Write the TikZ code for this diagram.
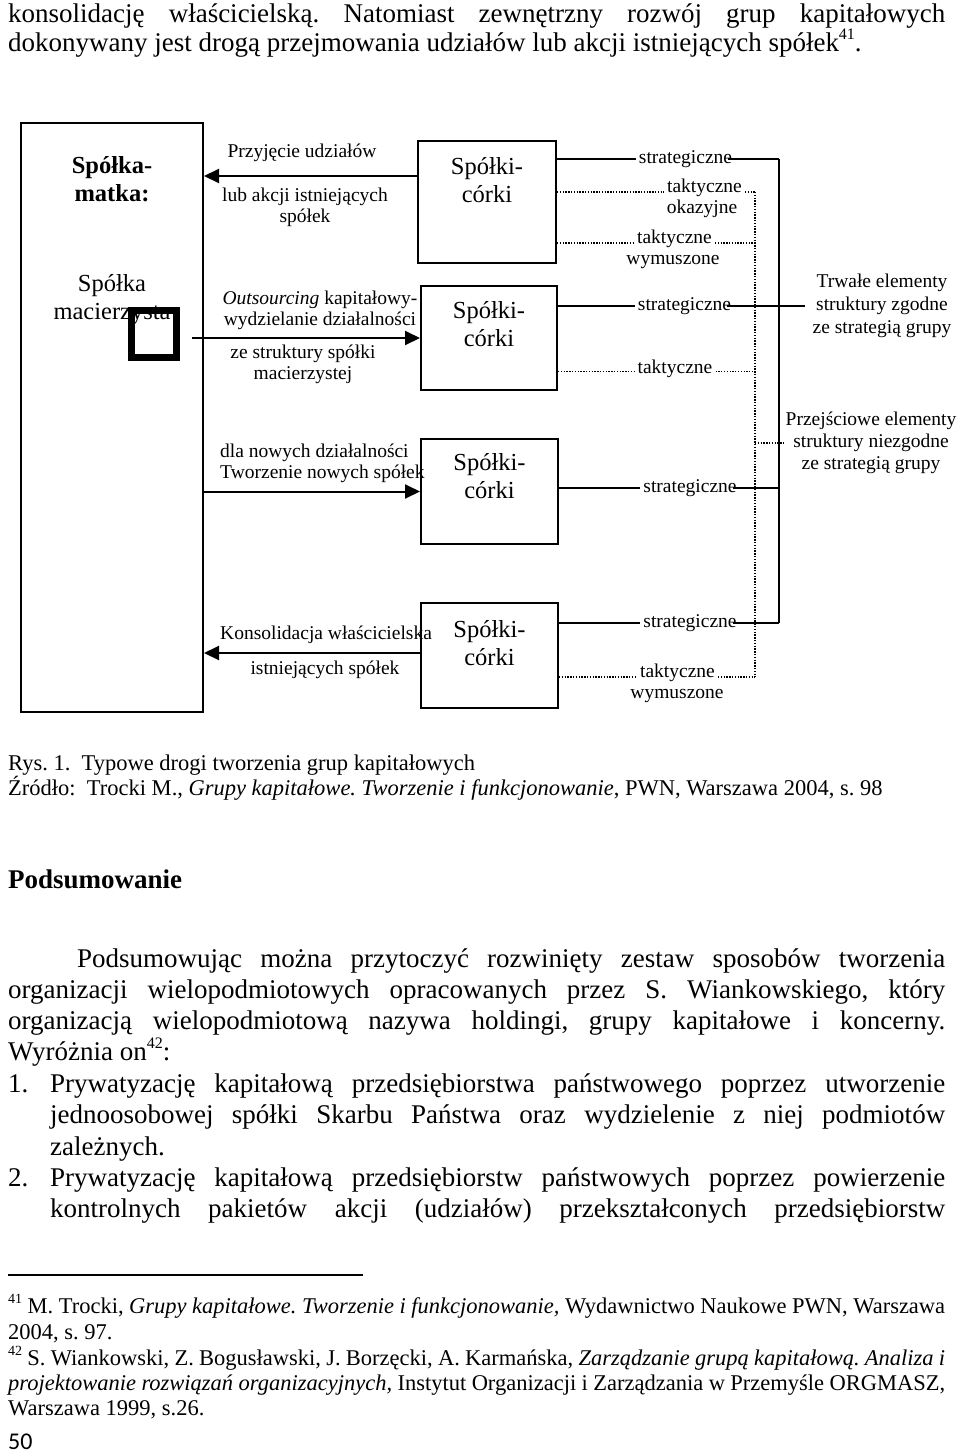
\documentclass[tikz,border=0pt]{standalone}
\usepackage{fontspec}
\setmainfont{Liberation Serif}
\newfontfamily\pagefont{Carlito}
\usetikzlibrary{arrows.meta}
\frenchspacing
\newcommand\jl[2]{\makebox[#1][s]{#2}}
\newcommand\supnum[1]{\raisebox{0.42em}{\fontsize{16}{16}\selectfont #1}}
\newcommand\fnsup[1]{\raisebox{0.42em}{\fontsize{14}{14}\selectfont #1}}
\tikzset{
  box/.style={draw, line width=2pt, inner sep=0pt},
  sol/.style={line width=1.8pt},
  dots/.style={line width=1.3pt, dash pattern=on 1.3pt off 1.5pt},
  arr/.style={line width=2pt, -{Triangle[length=15pt,width=14pt]}},
  lab/.style={font=\fontsize{19.5}{21}\selectfont, inner sep=0pt, align=center},
  row/.style={font=\fontsize{19.5}{21}\selectfont, inner xsep=3pt, inner ysep=0pt},
  big/.style={font=\fontsize{24.5}{28}\selectfont, inner sep=0pt, align=center},
  txt/.style={font=\fontsize{27}{31}\selectfont, inner sep=0pt, anchor=base west},
  fn/.style={font=\fontsize{22.5}{25}\selectfont, inner sep=0pt, anchor=base west},
}
\begin{document}
\begin{tikzpicture}[x=1pt,y=1pt]
\useasboundingbox (0,0) rectangle (960,-1454);

\node[txt] (l1) at (8,-22) {\jl{937pt}{konsolidację właścicielską. Natomiast zewnętrzny rozwój grup kapitałowych}};
\node[txt] (l2) at (8,-51) {dokonywany jest drogą przejmowania udziałów lub akcji istniejących spółek\supnum{41}.};

\node[box, minimum width=182pt, minimum height=589pt] (parent) at (112,-417.5) {};
\node[big, font=\fontsize{24.5}{28}\selectfont\bfseries] (matka) at (112,-179) {Spółka-\\matka:};
\node[big] (macierz) at (112,-300) {Spółka\\macierzysta};
\node[draw, line width=7pt, minimum width=45pt, minimum height=47pt, inner sep=0pt] (sq) at (154,-334) {};

\node[box, minimum width=138pt, minimum height=122pt] (c1) at (487,-202) {};
\node[box, minimum width=136pt, minimum height=104pt] (c2) at (489,-338) {};
\node[box, minimum width=137pt, minimum height=105pt] (c3) at (489.5,-491.5) {};
\node[box, minimum width=137pt, minimum height=105pt] (c4) at (489.5,-655.5) {};
\foreach \b/\s in {c1/40,c2/39,c3/38.5,c4/41}
  \node[big] (k\b) at ([yshift=-\s pt]\b.north) {Spółki-\\córki};

\node[lab] (przyj) at (302,-153) {Przyjęcie udziałów};
\node[lab] (lub) at (305,-207.5) {lub akcji istniejących\\spółek};
\node[lab] (outs) at (320,-310.5) {\textit{Outsourcing} kapitałowy-\\wydzielanie działalności};
\node[lab] (zestr) at (303,-364) {ze struktury spółki\\macierzystej};
\node[lab, align=left, anchor=west] (nowe) at (220,-463) {dla nowych działalności\\Tworzenie nowych spółek};
\node[lab, anchor=west] (kons) at (220,-635) {Konsolidacja właścicielska};
\node[lab] (istn) at (325,-670) {istniejących spółek};

\coordinate (a1) at ([yshift=26pt]c1.west);
\coordinate (a2) at ([xshift=11.5pt]sq.east);
\coordinate (a4) at ([yshift=2.5pt]c4.west);
\draw[arr] (a1) -- (a1 -| parent.east);
\draw[arr] (a2 |- c2.west) -- (c2.west);
\draw[arr] (parent.east |- c3.west) -- (c3.west);
\draw[arr] (a4) -- (a4 -| parent.east);

\node[row] (s1) at (685.5,-159) {strategiczne};
\node[row, anchor=base] (t1) at (704.5,-192) {taktyczne};
\node[row, anchor=base] (o1) at (702,-213) {okazyjne};
\node[row, anchor=base] (t2) at (674.5,-243) {taktyczne};
\node[row, anchor=base] (w2) at (673,-264) {wymuszone};
\node[row] (s2) at (684.5,-306) {strategiczne};
\node[row] (t3) at (675,-369) {taktyczne};
\node[row] (s3) at (690,-488) {strategiczne};
\node[row] (s4) at (690,-623) {strategiczne};
\node[row, anchor=base] (t4) at (677.5,-677) {taktyczne};
\node[row, anchor=base] (w4) at (677,-698) {wymuszone};

\node[lab, font=\fontsize{19.5}{23}\selectfont, inner xsep=8pt] (trw) at (882,-306) {Trwałe elementy\\struktury zgodne\\ze strategią grupy};
\node[lab, font=\fontsize{19.5}{22}\selectfont, inner xsep=2pt] (prz) at (871,-443) {Przejściowe elementy\\struktury niezgodne\\ze strategią grupy};

\coordinate (vs) at (779,0);
\coordinate (vd) at (755,0);
\foreach \r/\c in {s1/c1,s2/c2,s3/c3,s4/c4}
{
\draw[sol] (\c.east |- \r) -- (\r.west);
\draw[sol] ([xshift=-7pt]\r.east) -- (vs |- \r);
}
\draw[sol] (vs |- s1) -- (vs |- s4);
\draw[sol] (vs |- trw) -- (trw.west);
\foreach \r/\c/\w/\e in {t1/c1/base west/base east,t2/c1/base west/base east,t3/c2/mid west/mid east,t4/c4/base west/base east}
{
\draw[dots] (\c.east |- \r.\w) -- (\r.\w);
\draw[dots] (\r.\e) -- (vd |- \r.\e);
}
\draw[dots] (vd |- t1.base) -- (vd |- t4.base);
\draw[dots] (vd |- prz) -- (prz.west);

\node[fn] (rys) at (8,-770) {Rys. 1.\ \ Typowe drogi tworzenia grup kapitałowych};
\node[fn] (zrod) at (8,-795) {Źródło:\ \ Trocki M., \textit{Grupy kapitałowe. Tworzenie i funkcjonowanie}, PWN, Warszawa 2004, s. 98};

\node[txt, font=\fontsize{27}{31}\selectfont\bfseries] (head) at (8,-888) {Podsumowanie};
\node[txt] (p1) at (77,-967) {\jl{868pt}{Podsumowując można przytoczyć rozwinięty zestaw sposobów tworzenia}};
\node[txt] (p2) at (8,-998) {\jl{937pt}{organizacji wielopodmiotowych opracowanych przez S. Wiankowskiego, który}};
\node[txt] (p3) at (8,-1029) {\jl{937pt}{organizacją wielopodmiotową nazywa holdingi, grupy kapitałowe i koncerny.}};
\node[txt] (p4) at (8,-1060) {Wyróżnia on\supnum{42}:};
\node[txt] (n1) at (8,-1092) {1.};
\node[txt] (p5) at (50,-1092) {\jl{895pt}{Prywatyzację kapitałową przedsiębiorstwa państwowego poprzez utworzenie}};
\node[txt] (p6) at (50,-1123) {\jl{895pt}{jednoosobowej spółki Skarbu Państwa oraz wydzielenie z niej podmiotów}};
\node[txt] (p7) at (50,-1155) {zależnych.};
\node[txt] (n2) at (8,-1186) {2.};
\node[txt] (p8) at (50,-1186) {\jl{895pt}{Prywatyzację kapitałową przedsiębiorstw państwowych poprzez powierzenie}};
\node[txt] (p9) at (50,-1217) {\jl{895pt}{kontrolnych pakietów akcji (udziałów) przekształconych przedsiębiorstw}};

\coordinate (r0) at (8,-1275);
\coordinate (r1) at (363,-1275);
\draw[line width=1.2pt] (r0) -- (r1);
\node[fn] (f1) at (8,-1313) {\jl{937pt}{\fnsup{41} M. Trocki, \textit{Grupy kapitałowe. Tworzenie i funkcjonowanie,} Wydawnictwo Naukowe PWN, Warszawa}};
\node[fn] (f2) at (8,-1339) {2004, s. 97.};
\node[fn] (f3) at (8,-1365) {\jl{937pt}{\fnsup{42} S. Wiankowski, Z. Bogusławski, J. Borzęcki, A. Karmańska, \textit{Zarządzanie grupą kapitałową. Analiza i}}};
\node[fn] (f4) at (8,-1390) {\jl{937pt}{\textit{projektowanie rozwiązań organizacyjnych,} Instytut Organizacji i Zarządzania w Przemyśle ORGMASZ,}};
\node[fn] (f5) at (8,-1415) {Warszawa 1999, s.26.};
\node[anchor=base west, inner sep=0pt, font=\pagefont\fontsize{24}{24}\selectfont] (page) at (8,-1449) {50};
\end{tikzpicture}
\end{document}
